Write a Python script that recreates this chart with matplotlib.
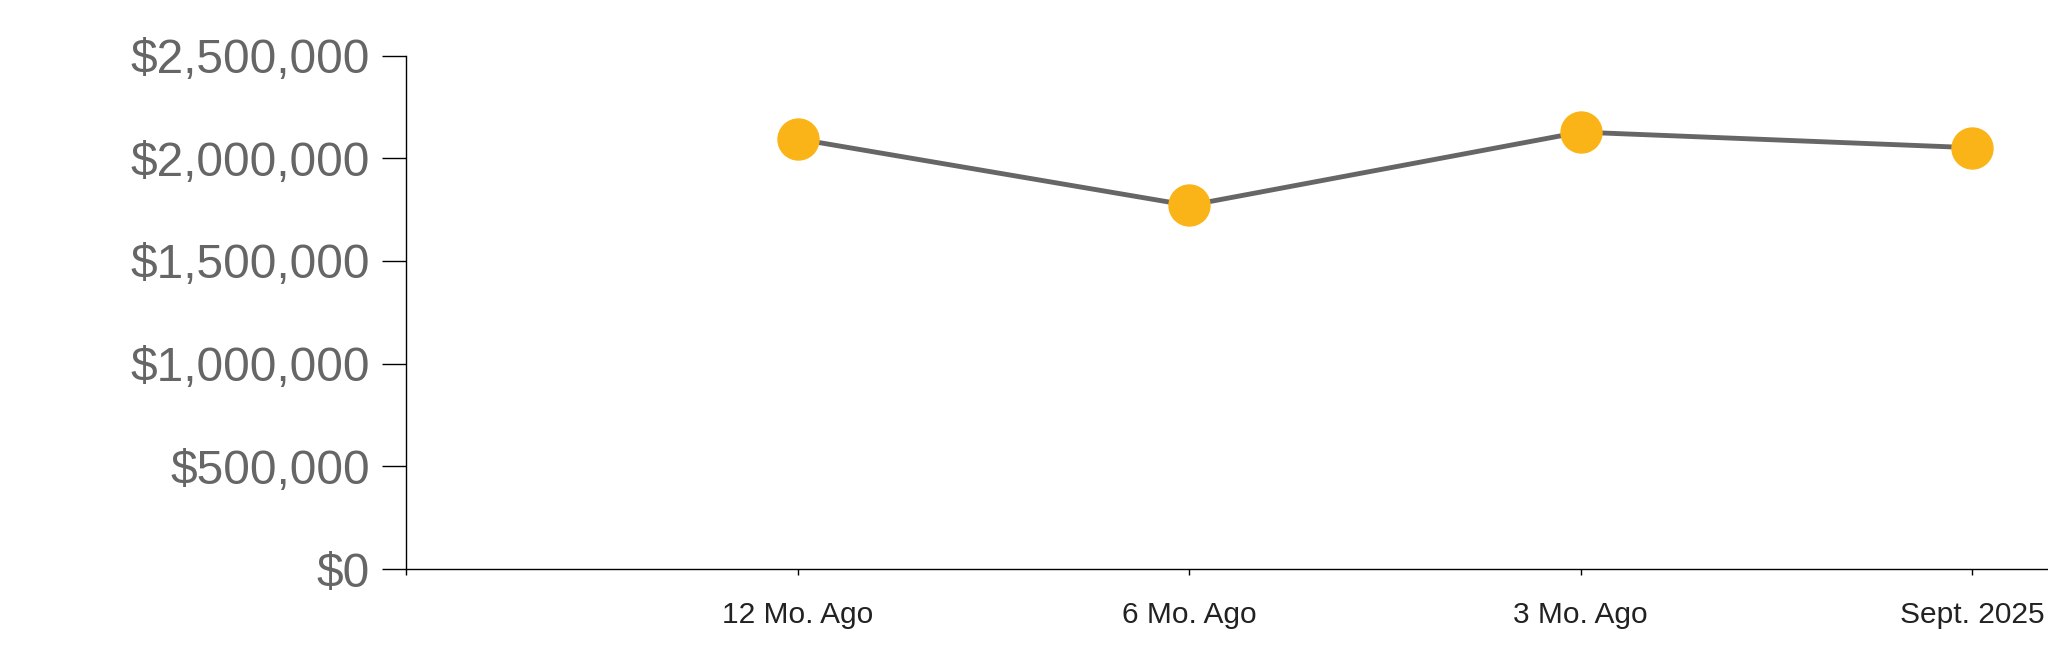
import matplotlib.pyplot as plt
from matplotlib.ticker import FuncFormatter

# Data
periods = ['12 Mo. Ago', '6 Mo. Ago', '3 Mo. Ago', 'Sept. 2025']
values = [2094000, 1770000, 2127000, 2051000]
y_ticks = [0, 500000, 1000000, 1500000, 2000000, 2500000]

plt.rcParams['font.family'] = ['Liberation Sans', 'DejaVu Sans']

fig = plt.figure(figsize=(20.48, 6.63), dpi=100)
ax = fig.add_axes([406 / 2048, 94 / 663, 1 - 406 / 2048, (568.5 - 55) / 663])

# Categories sit at 1..4, leaving an empty slot left of the first one
xpos = list(range(1, len(periods) + 1))
ax.plot(xpos, values, color='#666666', linewidth=3.5, zorder=2)
ax.plot(xpos, values, linestyle='none', marker='o', markersize=29.5,
        markerfacecolor='#FBB418', markeredgecolor='#FBB418', zorder=3,
        clip_on=False)

ax.set_xlim(0, (2048 - 406) / 391.5)
ax.set_ylim(0, 2500000)
ax.set_xticks([0] + xpos)
ax.set_xticklabels([''] + periods)
ax.set_yticks(y_ticks)
ax.yaxis.set_major_formatter(FuncFormatter(lambda v, p: '${:,.0f}'.format(v)))

ax.tick_params(axis='y', length=17, width=1, pad=9, labelsize=34.5,
               labelcolor='#666666', color='black')
ax.tick_params(axis='x', length=4.3, width=1, pad=18.5, labelsize=21.5,
               labelcolor='#222222', color='black')

for side in ['top', 'right']:
    ax.spines[side].set_visible(False)
ax.spines['left'].set_linewidth(1)
ax.spines['bottom'].set_linewidth(1)

plt.savefig('out.png', dpi=100)
